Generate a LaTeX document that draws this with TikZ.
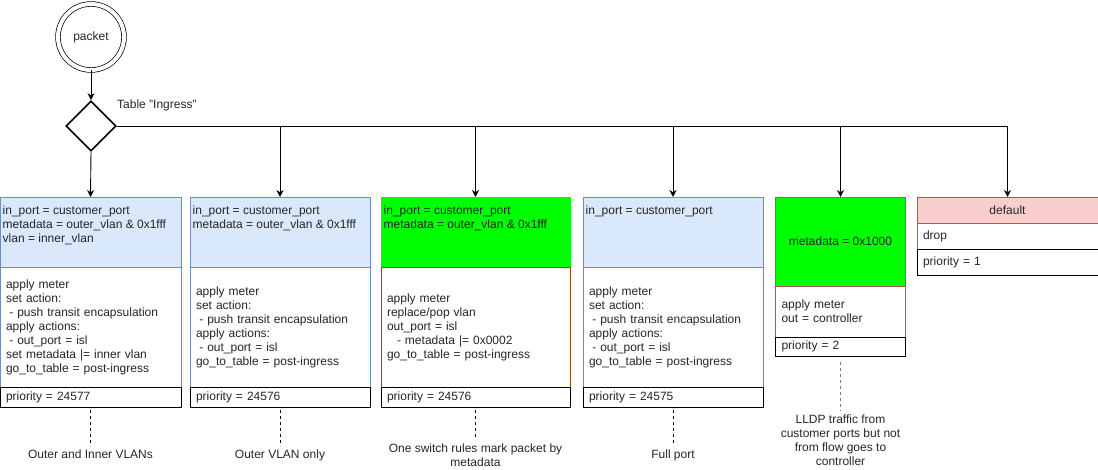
\documentclass[tikz,border=0pt]{standalone}
\usepackage{fontspec}
\setmainfont{Liberation Sans}
\usetikzlibrary{positioning, shapes.geometric, arrows.meta}

\definecolor{blueFill}{HTML}{DAE8FC}
\definecolor{blueLine}{HTML}{6C8EBF}
\definecolor{redFill}{HTML}{F8CECC}
\definecolor{redLine}{HTML}{B85450}
\definecolor{brownLine}{HTML}{994C00}
\definecolor{brightGreen}{HTML}{00FF00}
\definecolor{noteLine}{HTML}{808080}

\begin{document}
\begin{tikzpicture}[x=1pt, y=-1pt,
every node/.style={font=\fontsize{12}{14}\selectfont, text=black!85},
sect/.style={draw, rectangle, outer sep=0pt, inner sep=0pt, anchor=north west},
hdrtxt/.style={anchor=north west, align=left, inner xsep=2.5pt, inner ysep=8.5pt},
body/.style={draw, rectangle, outer sep=0pt, inner xsep=6pt, inner ysep=0pt, align=left, fill=white},
prio/.style={body, draw=black, minimum height=20pt},
flow/.style={-{Stealth[length=7pt, width=7pt]}, line width=0.9pt},
note/.style={dashed, dash pattern=on 3pt off 3pt, line width=0.8pt}]
\useasboundingbox (0,0) rectangle (1098,469);

% start and decision
\node (packet) [draw, circle, double, double distance=4pt, minimum size=66pt, inner sep=0pt,
line width=0.7pt] at (91,37) {packet};
\node (ingress) [draw, diamond, minimum width=50pt, minimum height=50pt, inner sep=0pt,
line width=1.6pt] at (91,126) {};
\node (ingresslbl) [anchor=west, inner sep=0pt] at (117,105) {Table "Ingress"};

% rule 1: outer and inner vlan
\node (m1) [sect, fill=blueFill, draw=blueLine, minimum width=181pt, minimum height=70pt] at (0,197) {};
\node (m1t) [hdrtxt] at (m1.north west) {in\_port = customer\_port\\metadata = outer\_vlan \& 0x1fff\\vlan = inner\_vlan};
\node (a1) [below=0pt of m1, body, draw=blueLine, minimum width=181pt, minimum height=120pt, text width=169pt]
{apply meter\\set action:\\\hspace*{3.3pt}- push transit encapsulation\\apply actions:\\\hspace*{3.3pt}- out\_port = isl\\set metadata |= inner vlan\\go\_to\_table = post-ingress};
\node (p1) [below=0pt of a1, prio, minimum width=181pt, text width=169pt] {priority = 24577};

% rule 2: outer vlan only
\node (m2) [sect, fill=blueFill, draw=blueLine, minimum width=180pt, minimum height=70pt] at (190,197) {};
\node (m2t) [hdrtxt] at (m2.north west) {in\_port = customer\_port\\metadata = outer\_vlan \& 0x1fff};
\node (a2) [below=0pt of m2, body, draw=blueLine, minimum width=180pt, minimum height=120pt, text width=168pt]
{apply meter\\set action:\\\hspace*{3.3pt}- push transit encapsulation\\apply actions:\\\hspace*{3.3pt}- out\_port = isl\\go\_to\_table = post-ingress};
\node (p2) [below=0pt of a2, prio, minimum width=180pt, text width=168pt] {priority = 24576};

% rule 3: one switch
\node (m3) [sect, fill=brightGreen, draw=brightGreen, minimum width=189pt, minimum height=70pt] at (381,197) {};
\node (m3t) [hdrtxt] at (m3.north west) {in\_port = customer\_port\\metadata = outer\_vlan \& 0x1fff};
\node (a3) [below=0pt of m3, body, draw=brownLine, minimum width=189pt, minimum height=120pt, text width=177pt]
{apply meter\\replace/pop vlan\\out\_port = isl\\\hspace*{10pt}- metadata |= 0x0002\\go\_to\_table = post-ingress};
\node (p3) [below=0pt of a3, prio, minimum width=189pt, text width=177pt] {priority = 24576};

% rule 4: full port
\node (m4) [sect, fill=blueFill, draw=blueLine, minimum width=180pt, minimum height=70pt] at (583,197) {};
\node (m4t) [hdrtxt] at (m4.north west) {in\_port = customer\_port};
\node (a4) [below=0pt of m4, body, draw=blueLine, minimum width=180pt, minimum height=120pt, text width=168pt]
{apply meter\\set action:\\\hspace*{3.3pt}- push transit encapsulation\\apply actions:\\\hspace*{3.3pt}- out\_port = isl\\go\_to\_table = post-ingress};
\node (p4) [below=0pt of a4, prio, minimum width=180pt, text width=168pt] {priority = 24575};

% rule 5: lldp
\node (m5) [sect, fill=brightGreen, draw=redLine, minimum width=130pt, minimum height=89pt] at (775.5,197) {};
\node (m5t) at (m5.center) {metadata = 0x1000};
\node (a5) [below=0pt of m5, body, draw=redLine, minimum width=130pt, minimum height=51pt, text width=118pt]
{apply meter\\out = controller};
\node (p5) [below=0pt of a5, prio, minimum width=130pt, text width=118pt, minimum height=19pt] {priority = 2};

% default
\node (m6) [sect, fill=redFill, draw=redLine, minimum width=181pt, minimum height=26pt] at (917,197) {};
\node (m6t) at (m6.center) {default};
\node (a6) [below=0pt of m6, body, draw=redLine, minimum width=181pt, minimum height=26pt, text width=169pt] {drop};
\node (p6) [below=0pt of a6, prio, minimum width=181pt, text width=169pt, minimum height=26pt] {priority = 1};

% notes
\node (n1) [below=39pt of p1, align=center] {Outer and Inner VLANs};
\node (n2) [below=39pt of p2, align=center] {Outer VLAN only};
\node (n3) [below=33pt of p3, align=center] {One switch rules mark packet by\\metadata};
\node (n4) [below=39pt of p4, align=center] {Full port};
\node (n5) [below=55pt of p5, align=center] {LLDP traffic from\\customer ports but not\\from flow goes to\\controller};

% flow
\draw[flow] (packet) -- (ingress);
\draw[flow] (ingress.south) -- (m1.north);
\draw[flow] (ingress.east) -| (m6.north);
\draw[flow] (ingress.east -| m2.north) -- (m2.north);
\draw[flow] (ingress.east -| m3.north) -- (m3.north);
\draw[flow] (ingress.east -| m4.north) -- (m4.north);
\draw[flow] (ingress.east -| m5.north) -- (m5.north);

\draw[note] ([yshift=-3pt]p1.south) -- (n1.north);
\draw[note] ([yshift=-3pt]p2.south) -- (n2.north);
\draw[note] ([yshift=-3pt]p3.south) -- (n3.north);
\draw[note] ([yshift=-3pt]p4.south) -- (n4.north);
\draw[note, draw=noteLine] ([yshift=-6pt]p5.south) -- (n5.north);
\end{tikzpicture}
\end{document}
